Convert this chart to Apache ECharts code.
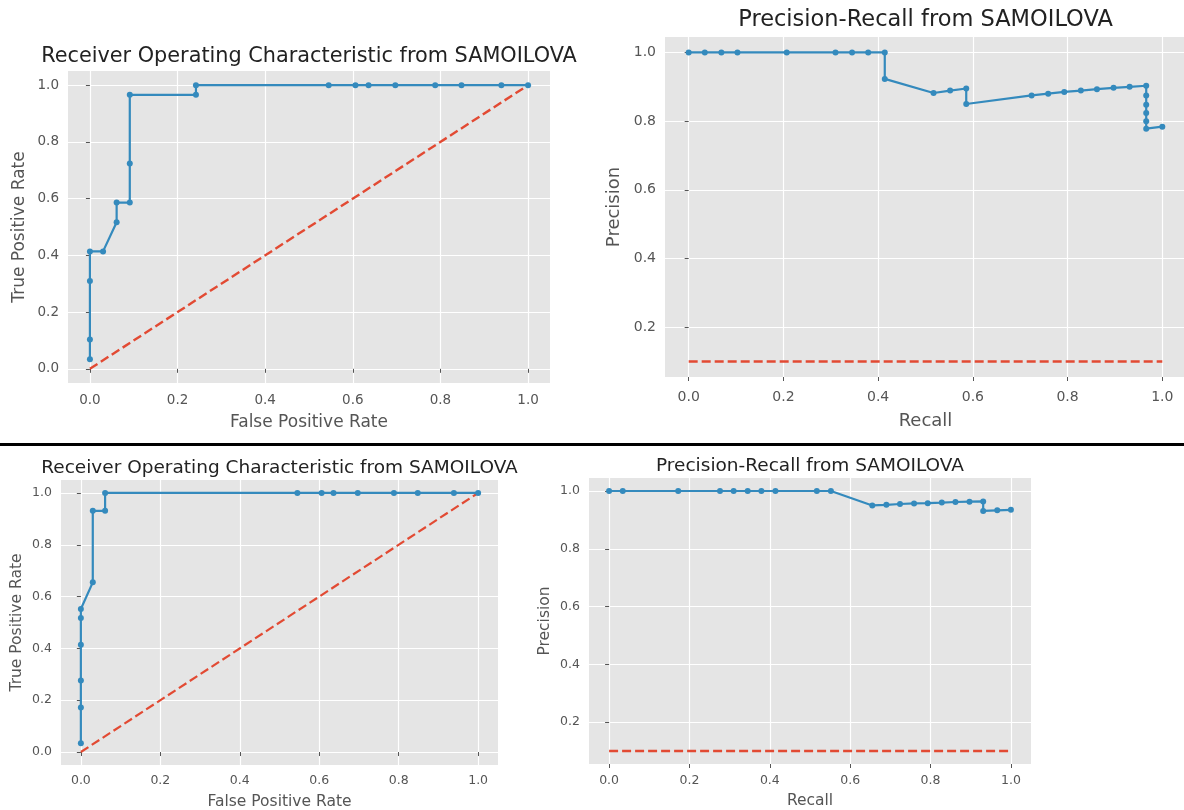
<!DOCTYPE html>
<html>
<head>
<meta charset="utf-8">
<script src="https://cdn.jsdelivr.net/npm/echarts@6/dist/echarts.min.js"></script>
<style>
html,body{margin:0;padding:0;background:#fff;}
#chart{width:1184px;height:810px;}
</style>
</head>
<body>
<div id="chart"></div>
<script>
// ---- data ----
const roc1Fpr = [0, 0, 0, 0, 0.030, 0.061, 0.061, 0.091, 0.091, 0.091, 0.242, 0.242, 0.545, 0.606, 0.636, 0.697, 0.788, 0.848, 0.939, 1.0];
const roc1Tpr = [0.034, 0.103, 0.310, 0.414, 0.414, 0.517, 0.586, 0.586, 0.724, 0.966, 0.966, 1, 1, 1, 1, 1, 1, 1, 1, 1];

const pr1Recall = [0, 0.034, 0.069, 0.103, 0.207, 0.310, 0.345, 0.379, 0.414, 0.414, 0.517, 0.552, 0.586, 0.586, 0.724, 0.759, 0.793, 0.828, 0.862, 0.897, 0.931, 0.966, 0.966, 0.966, 0.966, 0.966, 0.966, 1.0];
const pr1Precision = [1, 1, 1, 1, 1, 1, 1, 1, 1, 0.923, 0.882, 0.889, 0.895, 0.850, 0.875, 0.880, 0.885, 0.889, 0.893, 0.897, 0.900, 0.903, 0.875, 0.848, 0.824, 0.800, 0.778, 0.784];

const roc2Fpr = [0, 0, 0, 0, 0, 0, 0.030, 0.030, 0.061, 0.061, 0.545, 0.606, 0.636, 0.697, 0.788, 0.848, 0.939, 1.0];
const roc2Tpr = [0.034, 0.172, 0.276, 0.414, 0.517, 0.552, 0.655, 0.931, 0.931, 1, 1, 1, 1, 1, 1, 1, 1, 1];

const pr2Recall = [0, 0.034, 0.172, 0.276, 0.310, 0.345, 0.379, 0.414, 0.517, 0.552, 0.655, 0.690, 0.724, 0.759, 0.793, 0.828, 0.862, 0.897, 0.931, 0.931, 0.966, 1.0];
const pr2Precision = [1, 1, 1, 1, 1, 1, 1, 1, 1, 1, 0.950, 0.952, 0.955, 0.957, 0.958, 0.960, 0.962, 0.963, 0.964, 0.931, 0.933, 0.935];

const rocChanceX = [0, 1];
const rocChanceY = [0, 1];
const prChanceX = [0, 1];
const prChanceY = [0.1, 0.1];

const xTicks = [0, 0.2, 0.4, 0.6, 0.8, 1.0];
const rocYTicks = [0, 0.2, 0.4, 0.6, 0.8, 1.0];
const prYTicks = [0.2, 0.4, 0.6, 0.8, 1.0];

const titleRoc = 'Receiver Operating Characteristic from SAMOILOVA';
const titlePr = 'Precision-Recall from SAMOILOVA';
const fprName = 'False Positive Rate';
const tprName = 'True Positive Rate';
const recallName = 'Recall';
const precisionName = 'Precision';

// ---- layout / style ----
const FONT = 'DejaVu Sans';
const BLUE = '#348ABD';
const RED = '#E24A33';
const BG = '#E5E5E5';
const TICKC = '#555555';

const panels = [
  {grid: {left: 68, top: 71, width: 482, height: 312}, xr: [-0.05, 1.05], yr: [-0.05, 1.05], yTicks: rocYTicks,
   title: titleRoc, tfs: 20.8, tTop: 46, xName: fprName, yName: tprName, nfs: 17, tick: 13.5, xGap: 31, yGap: 40, lm: 10,
   dashW: 2.4, x: roc1Fpr, y: roc1Tpr, cx: rocChanceX, cy: rocChanceY},
  {grid: {left: 665, top: 37, width: 521, height: 340}, xr: [-0.05, 1.05], yr: [0.055, 1.045], yTicks: prYTicks,
   title: titlePr, tfs: 22.5, tTop: 9, xName: recallName, yName: precisionName, nfs: 18, tick: 14, xGap: 35, yGap: 42, lm: 13,
   dashW: 2.6, x: pr1Recall, y: pr1Precision, cx: prChanceX, cy: prChanceY},
  {grid: {left: 61, top: 480, width: 437, height: 285}, xr: [-0.05, 1.05], yr: [-0.05, 1.05], yTicks: rocYTicks,
   title: titleRoc, tfs: 18.5, tTop: 459, xName: fprName, yName: tprName, nfs: 15.5, tick: 12.5, xGap: 29, yGap: 36, lm: 9,
   dashW: 2.2, x: roc2Fpr, y: roc2Tpr, cx: rocChanceX, cy: rocChanceY},
  {grid: {left: 589, top: 478, width: 442, height: 286}, xr: [-0.05, 1.05], yr: [0.055, 1.045], yTicks: prYTicks,
   title: titlePr, tfs: 18.5, tTop: 457, xName: recallName, yName: precisionName, nfs: 15.5, tick: 12.5, xGap: 29, yGap: 36, lm: 10,
   dashW: 2.4, x: pr2Recall, y: pr2Precision, cx: prChanceX, cy: prChanceY}
];

const mctx = document.createElement('canvas').getContext('2d');
function textW(t, fs) { mctx.font = fs + 'px "' + FONT + '"'; return mctx.measureText(t).width; }

const zip = (a, b) => a.map((v, i) => [v, b[i]]);
const fmt = v => (Math.abs(v * 5 - Math.round(v * 5)) < 1e-6) ? v.toFixed(1) : '';

const option = {
  animation: false,
  backgroundColor: '#fff',
  textStyle: {fontFamily: FONT},
  title: [], grid: [], xAxis: [], yAxis: [], series: [],
  graphic: [{type: 'rect', shape: {x: 0, y: 443, width: 1184, height: 3}, style: {fill: '#000'}, z: 100}]
};

panels.forEach((p, i) => {
  const cxp = p.grid.left + p.grid.width / 2;
  option.title.push({
    text: p.title, left: cxp - textW(p.title, p.tfs) / 2, top: p.tTop, padding: 0,
    textStyle: {fontFamily: FONT, fontSize: p.tfs, fontWeight: 'normal', color: '#222'}
  });
  option.grid.push(Object.assign({show: true, backgroundColor: BG, borderWidth: 0, containLabel: false, outerBoundsMode: 'none'}, p.grid));
  option.xAxis.push({
    type: 'value', gridIndex: i, min: p.xr[0], max: p.xr[1],
    name: p.xName, nameLocation: 'middle', nameGap: p.xGap,
    nameTextStyle: {fontFamily: FONT, fontSize: p.nfs, color: TICKC},
    axisLine: {show: false},
    axisTick: {show: true, length: 4, lineStyle: {color: TICKC}, customValues: xTicks},
    axisLabel: {fontFamily: FONT, fontSize: p.tick, color: TICKC, margin: p.lm, formatter: fmt, customValues: xTicks},
    splitLine: {show: true, lineStyle: {color: '#fff', width: 1.2}}
  });
  option.yAxis.push({
    type: 'value', gridIndex: i, min: p.yr[0], max: p.yr[1],
    name: p.yName, nameLocation: 'middle', nameGap: p.yGap,
    nameTextStyle: {fontFamily: FONT, fontSize: p.nfs, color: TICKC},
    axisLine: {show: false},
    axisTick: {show: true, length: 4, lineStyle: {color: TICKC}, customValues: p.yTicks},
    axisLabel: {fontFamily: FONT, fontSize: p.tick, color: TICKC, margin: 9, formatter: fmt, customValues: p.yTicks},
    splitLine: {show: true, lineStyle: {color: '#fff', width: 1.2}}
  });
  option.series.push({
    type: 'line', xAxisIndex: i, yAxisIndex: i, data: zip(p.cx, p.cy),
    symbol: 'none', lineStyle: {color: RED, width: p.dashW, type: [9, 4]}, z: 2, silent: true
  });
  option.series.push({
    type: 'line', xAxisIndex: i, yAxisIndex: i, data: zip(p.x, p.y),
    symbol: 'circle', symbolSize: 6, showSymbol: true,
    lineStyle: {color: BLUE, width: 2.2}, itemStyle: {color: BLUE}, z: 3, silent: true
  });
});

const chart = echarts.init(document.getElementById('chart'), null, {renderer: 'canvas'});
chart.setOption(option);
</script>
</body>
</html>
